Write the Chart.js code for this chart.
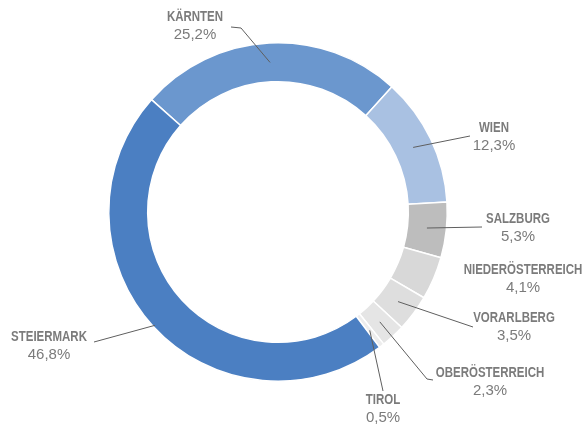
<html>
	<head>
		<meta charset="utf-8">
		<title>Bundesländer</title>
		<style>
			body {
				margin: 0;
				padding: 0;
				background: #fff;
			}
			#wrap {
				position: relative;
				width: 585px;
				height: 430px;
			}
		</style>
	</head>
	<body>
		<div id="wrap">
			<canvas id="myChart" width="585" height="430"></canvas>
		</div>
		<script src="https://cdn.jsdelivr.net/npm/chart.js@4/dist/chart.umd.min.js"></script>

		<script>
			// values, clockwise from Kärnten
			const regions = ["KÄRNTEN", "WIEN", "SALZBURG", "NIEDERÖSTERREICH", "VORARLBERG", "OBERÖSTERREICH", "TIROL", "STEIERMARK"];
			const shares = [25.2, 12.3, 5.3, 4.1, 3.5, 2.3, 0.5, 46.8];
			const colours = ["#6b97ce", "#a9c1e2", "#bdbdbd", "#d8d8d8", "#dedede", "#e5e5e5", "#ededed", "#4b7fc2"];

			// where each label sits (text centre) and the outer end of its leader line
			const labelSpots = [
				{ x: 195, y: 17, line: [[231, 27], [241, 28]] },
				{ x: 494, y: 128, line: [[470, 136]] },
				{ x: 518, y: 219, line: [[482, 227]] },
				{ x: 523, y: 270, line: null },
				{ x: 514, y: 318, line: [[473, 327]] },
				{ x: 490, y: 373, line: [[433, 380], [427, 379]] },
				{ x: 383, y: 400, line: [[383, 391]] },
				{ x: 49, y: 337, line: [[94, 342]], depth: 0.95 },
			];

			const pct = v => v.toFixed(1).replace(".", ",") + "%";
			const squeeze = 0.82; // the original font is a narrow one

			const outsideLabels = {
				id: "outsideLabels",
				afterDatasetsDraw(chart) {
					const c = chart.ctx;
					const arcs = chart.getDatasetMeta(0).data;
					c.save();
					arcs.forEach((arc, i) => {
						const spot = labelSpots[i];
						const p = arc.getProps(["x", "y", "startAngle", "endAngle", "innerRadius", "outerRadius"], true);
						if (spot.line) {
							const mid = (p.startAngle + p.endAngle) / 2;
							const f = spot.depth == null ? 0.5 : spot.depth;
							const r = p.innerRadius + f * (p.outerRadius - p.innerRadius);
							c.beginPath();
							c.moveTo(spot.line[0][0], spot.line[0][1]);
							for (let k = 1; k < spot.line.length; k++) c.lineTo(spot.line[k][0], spot.line[k][1]);
							c.lineTo(p.x + Math.cos(mid) * r, p.y + Math.sin(mid) * r);
							c.strokeStyle = "#5f5f5f";
							c.lineWidth = 1;
							c.stroke();
						}
						c.fillStyle = "#7b7b7b";
						c.textAlign = "center";
						c.textBaseline = "middle";
						c.save();
						c.translate(spot.x, spot.y);
						c.scale(squeeze, 1);
						c.font = "bold 14px 'Liberation Sans', sans-serif";
						c.fillText(regions[i], 0, 0);
						c.restore();
						// the digits in the original are wide, so no squeeze here
						c.font = "15px 'Liberation Sans', sans-serif";
						c.fillText(pct(shares[i]), spot.x, spot.y + 18);
					});
					c.restore();
				},
			};

			const ctx = document.getElementById("myChart");
			new Chart(ctx, {
				type: "doughnut",
				data: {
					labels: regions,
					datasets: [
						{
							data: shares,
							backgroundColor: colours,
							borderColor: "#ffffff",
							borderWidth: 1.5,
						},
					],
				},
				options: {
					responsive: false,
					animation: false,
					rotation: -48.4,
					cutout: "77%",
					layout: {
						padding: { left: 108, right: 137, top: 42, bottom: 48 },
					},
					plugins: {
						legend: { display: false },
						tooltip: { enabled: false },
					},
				},
				plugins: [outsideLabels],
			});
		</script>
	</body>
</html>
